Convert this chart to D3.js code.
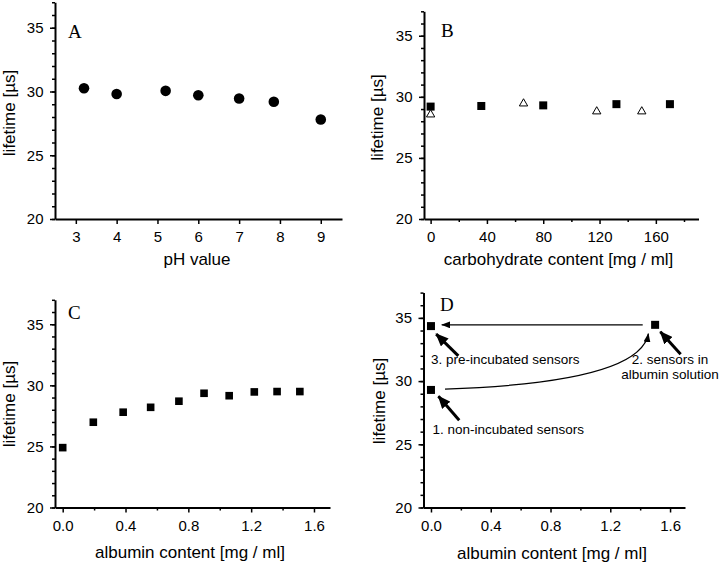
<!DOCTYPE html>
<html>
<head>
<meta charset="utf-8">
<script src="https://cdn.jsdelivr.net/npm/d3@7"></script>
<style>
  body { margin: 0; background: #fff; }
  svg { display: block; font-family: "Liberation Sans", Arial, sans-serif; }
  .domain { stroke: #000; stroke-width: 2; }
  .tick line { stroke: #000; stroke-width: 1.5; }
  .tick text { font-size: 15px; fill: #000; }
  .axisText { font-size: 17px; fill: #000; }
  .panelLetter { font-family: "Liberation Serif", "Times New Roman", serif; font-size: 19px; }
  .note { font-size: 13.5px; fill: #000; }
</style>
</head>
<body>
<div id="chart"></div>
<script>
// Data
var lifetimeTicks = [20, 25, 30, 35];
var lifetimeMinor = d3.range(20, 38, 1);

// A: pH
var phTicks = [3, 4, 5, 6, 7, 8, 9];
var phValues = [3.2, 4, 5.2, 6, 7, 7.85, 9];
var phLifetimes = [30.25, 29.8, 30.05, 29.7, 29.45, 29.2, 27.8];

// B: carbohydrate
var carbTicks = [0, 40, 80, 120, 160];
var carbMinor = [20, 60, 100, 140, 180];
var carbSquareConc = [0, 36, 80, 132, 170];
var carbSquareLife = [29.2, 29.25, 29.3, 29.4, 29.4];
var carbTriConc = [0, 66, 118, 150];
var carbTriLife = [28.55, 29.45, 28.8, 28.8];

// C: albumin
var albTicks = [0, 0.4, 0.8, 1.2, 1.6];
var albMinor = [0.2, 0.6, 1.0, 1.4];
var albuminConc = [0, 0.195, 0.385, 0.56, 0.74, 0.9, 1.06, 1.22, 1.365, 1.51];
var albuminLife = [24.9, 26.98, 27.8, 28.2, 28.7, 29.35, 29.15, 29.46, 29.49, 29.49];

// D: sensors (1. non-incubated, 2. in albumin, 3. pre-incubated)
var sensorConc = [0, 1.5, 0];
var sensorLife = [29.3, 34.45, 34.35];
var sensorLabels = ["1. non-incubated sensors", "2. sensors in", "3. pre-incubated sensors"];


var svgWidth = 720;
var svgHeight = 564;

var svg = d3.select("#chart")
  .append("svg")
  .attr("width", svgWidth)
  .attr("height", svgHeight);

var defs = svg.append("defs");

defs.append("marker")
  .attr("id", "thickHead")
  .attr("markerUnits", "userSpaceOnUse")
  .attr("viewBox", "0 0 13 11")
  .attr("refX", 12).attr("refY", 5.5)
  .attr("markerWidth", 13).attr("markerHeight", 11)
  .attr("orient", "auto")
  .append("path")
  .attr("d", "M0,0 L13,5.5 L0,11 Z")
  .attr("fill", "#000");

defs.append("marker")
  .attr("id", "thinHead")
  .attr("markerUnits", "userSpaceOnUse")
  .attr("viewBox", "0 0 9 7")
  .attr("refX", 8.5).attr("refY", 3.5)
  .attr("markerWidth", 9).attr("markerHeight", 7)
  .attr("orient", "auto")
  .append("path")
  .attr("d", "M0,0 L9,3.5 L0,7 Z")
  .attr("fill", "#000");


// Draw one panel's axes, returns the scales
function drawPanel(p) {
  var x = d3.scaleLinear().domain(p.xDomain).range(p.xRange);
  var y = d3.scaleLinear().domain([20, 37]).range(p.yRange);

  var g = svg.append("g");

  // minor ticks first
  g.append("g")
    .attr("transform", `translate(0, ${p.yRange[0]})`)
    .call(d3.axisBottom(x).tickValues(p.xMinor).tickSize(3).tickSizeOuter(0).tickFormat(""))
    .select(".domain").remove();

  g.append("g")
    .attr("transform", `translate(${p.xRange[0]}, 0)`)
    .call(d3.axisLeft(y).tickValues(lifetimeMinor).tickSize(3).tickSizeOuter(0).tickFormat(""))
    .select(".domain").remove();

  g.append("g")
    .attr("transform", `translate(0, ${p.yRange[0]})`)
    .call(d3.axisBottom(x).tickValues(p.xTicks).tickSize(5).tickPadding(7.5)
      .tickSizeOuter(0).tickFormat(p.xFormat));

  g.append("g")
    .attr("transform", `translate(${p.xRange[0]}, 0)`)
    .call(d3.axisLeft(y).tickValues(lifetimeTicks).tickSize(5).tickPadding(6.5).tickSizeOuter(0));

  g.selectAll(".tick text").attr("font-family", null).attr("font-size", null);

  // axis titles
  g.append("text")
    .attr("class", "axisText")
    .attr("x", p.xTitle[0])
    .attr("y", p.xTitle[1])
    .attr("text-anchor", "middle")
    .text(p.xLabel);

  g.append("text")
    .attr("class", "axisText")
    .attr("transform", `translate(${p.yTitle[0]}, ${p.yTitle[1]}) rotate(-90)`)
    .attr("text-anchor", "middle")
    .text("lifetime [µs]");

  g.append("text")
    .attr("class", "panelLetter")
    .attr("x", p.letterPos[0])
    .attr("y", p.letterPos[1])
    .text(p.letter);

  return { x: x, y: y, g: g };
}


// Panel A
var a = drawPanel({
  xDomain: [2.49, 9.52], xRange: [55, 342], yRange: [219, 2.25],
  xTicks: phTicks, xMinor: [], xFormat: d3.format("d"),
  xLabel: "pH value", xTitle: [197, 265], yTitle: [15, 113],
  letter: "A", letterPos: [68, 38]
});

a.g.selectAll(".pt")
  .data(d3.range(phValues.length))
  .enter()
  .append("circle")
  .attr("cx", i => a.x(phValues[i]))
  .attr("cy", i => a.y(phLifetimes[i]))
  .attr("r", 5.3)
  .attr("fill", "#000");


// Panel B
var b = drawPanel({
  xDomain: [-4.7, 190.3], xRange: [424, 698.5], yRange: [219, 11.3],
  xTicks: carbTicks, xMinor: carbMinor, xFormat: d3.format("d"),
  xLabel: "carbohydrate content [mg / ml]", xTitle: [558.5, 265], yTitle: [383, 117.5],
  letter: "B", letterPos: [441, 37]
});

b.g.selectAll(".sq")
  .data(d3.range(carbSquareConc.length))
  .enter()
  .append("rect")
  .attr("x", i => b.x(carbSquareConc[i]) - 4)
  .attr("y", i => b.y(carbSquareLife[i]) - 4)
  .attr("width", 8)
  .attr("height", 8)
  .attr("fill", "#000");

var triangle = d3.symbol().type(d3.symbolTriangle).size(30);

b.g.selectAll(".tri")
  .data(d3.range(carbTriConc.length))
  .enter()
  .append("path")
  .attr("d", triangle)
  .attr("transform", i => `translate(${b.x(carbTriConc[i])}, ${b.y(carbTriLife[i])})`)
  .attr("fill", "#fff")
  .attr("stroke", "#000")
  .attr("stroke-width", 1);


// Panel C
var c = drawPanel({
  xDomain: [-0.049, 1.702], xRange: [55, 330], yRange: [507.5, 299.8],
  xTicks: albTicks, xMinor: albMinor, xFormat: d3.format(".1f"),
  xLabel: "albumin content [mg / ml]", xTitle: [190, 558], yTitle: [15, 404],
  letter: "C", letterPos: [68, 319]
});

c.g.selectAll(".sq")
  .data(d3.range(albuminConc.length))
  .enter()
  .append("rect")
  .attr("x", i => c.x(albuminConc[i]) - 3.8)
  .attr("y", i => c.y(albuminLife[i]) - 3.8)
  .attr("width", 7.6)
  .attr("height", 7.6)
  .attr("fill", "#000");


// Panel D
var d = drawPanel({
  xDomain: [-0.05, 1.70], xRange: [423.5, 685], yRange: [507.5, 292.6],
  xTicks: albTicks, xMinor: albMinor, xFormat: d3.format(".1f"),
  xLabel: "albumin content [mg / ml]", xTitle: [552, 558.5], yTitle: [385, 401],
  letter: "D", letterPos: [440, 311]
});

d.g.selectAll(".sq")
  .data(d3.range(sensorConc.length))
  .enter()
  .append("rect")
  .attr("x", i => d.x(sensorConc[i]) - 4)
  .attr("y", i => d.y(sensorLife[i]) - 4)
  .attr("width", 8)
  .attr("height", 8)
  .attr("fill", "#000");

// thin arrow from 2 back to 3
d.g.append("line")
  .attr("x1", d.x(1.417)).attr("y1", d.y(34.45))
  .attr("x2", d.x(0.072)).attr("y2", d.y(34.45))
  .attr("stroke", "#000").attr("stroke-width", 1.3)
  .attr("marker-end", "url(#thinHead)");

// curved arrow from 1 to 2
var curve = d3.path();
curve.moveTo(d.x(0.094), d.y(29.37));
curve.quadraticCurveTo(d.x(1.399), d.y(29.88), d.x(1.455), d.y(33.75));
d.g.append("path")
  .attr("d", curve.toString())
  .attr("fill", "none")
  .attr("stroke", "#000").attr("stroke-width", 1.3)
  .attr("marker-end", "url(#thinHead)");

// thick pointer arrows
var pointers = [
  [0.189, 26.91, 0.05, 28.8],
  [1.671, 32.13, 1.535, 33.9],
  [0.183, 32.0, 0.035, 33.72]
];

d.g.selectAll(".pointer")
  .data(pointers)
  .enter()
  .append("line")
  .attr("x1", p => d.x(p[0])).attr("y1", p => d.y(p[1]))
  .attr("x2", p => d.x(p[2])).attr("y2", p => d.y(p[3]))
  .attr("stroke", "#000").attr("stroke-width", 3)
  .attr("marker-end", "url(#thickHead)");

d.g.append("text").attr("class", "note")
  .attr("x", d.x(0.01)).attr("y", d.y(25.79))
  .text(sensorLabels[0]);

d.g.append("text").attr("class", "note")
  .attr("x", d.x(0)).attr("y", d.y(31.33))
  .text(sensorLabels[2]);

d.g.append("text").attr("class", "note")
  .attr("x", d.x(1.6)).attr("y", d.y(31.38))
  .attr("text-anchor", "middle")
  .text(sensorLabels[1]);

d.g.append("text").attr("class", "note")
  .attr("x", d.x(1.6)).attr("y", d.y(30.19))
  .attr("text-anchor", "middle")
  .text("albumin solution");
</script>
</body>
</html>
